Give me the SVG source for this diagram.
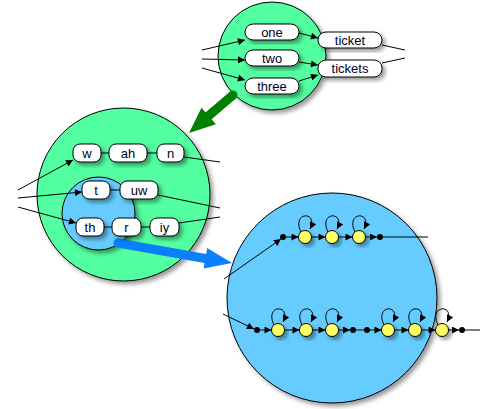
<svg xmlns="http://www.w3.org/2000/svg" width="488" height="409" viewBox="0 0 488 409">
  <defs>
    <filter id="shadow" x="-20%" y="-20%" width="150%" height="150%">
      <feDropShadow dx="3" dy="3" stdDeviation="2" flood-color="#000" flood-opacity="0.4"/>
    </filter>
    <marker id="arrow" viewBox="0 0 10 10" refX="10" refY="5" markerWidth="8" markerHeight="7" markerUnits="userSpaceOnUse" orient="auto">
      <path d="M0,0 L10,5 L0,10 z" fill="#000"/>
    </marker>
    <style>
      .green { fill: #52ffa0; stroke: #000; stroke-width: 1; filter: url(#shadow); }
      .blue { fill: #66ccff; stroke: #000; stroke-width: 1; filter: url(#shadow); }
      .box rect { fill: #fff; stroke: #000; stroke-width: 1; filter: url(#shadow); }
      .box text { font-family: "Liberation Sans", Arial, sans-serif; font-size: 13px; fill: #000022; text-anchor: middle; dominant-baseline: central; }
      .state { fill: #ffff66; stroke: #000; stroke-width: 1; filter: url(#shadow); }
      .dot { fill: #000; }
      .edge { fill: none; stroke: #000; stroke-width: 1; }
      .arr { marker-end: url(#arrow); }
      .link { stroke: #2a6a8a; stroke-width: 2; }
    </style>
  </defs>

  <rect width="488" height="409" fill="#fff"/>

  <!-- word-level network -->
  <g id="word-net"><circle class="green" cx="272" cy="56" r="54"/></g>
  <!-- phone-level network -->
  <g id="phone-net"><circle class="green" cx="123.5" cy="194.5" r="86.5"/></g>
  <g id="phone-subnet"><circle class="blue" cx="98.5" cy="213.5" r="36.5"/></g>
  <!-- state-level network -->
  <g id="state-net"><circle class="blue" cx="332" cy="298" r="105"/></g>

  <g id="connectors">
    <!-- word network edges -->
    <line class="edge arr" x1="202" y1="50" x2="245" y2="40"/>
    <line class="edge arr" x1="202" y1="59" x2="245" y2="60"/>
    <line class="edge arr" x1="202" y1="68" x2="245" y2="80"/>
    <line class="edge arr" x1="299" y1="33" x2="318" y2="38"/>
    <line class="edge arr" x1="299" y1="62" x2="318" y2="65"/>
    <line class="edge arr" x1="299" y1="81" x2="318" y2="75"/>
    <line class="edge" x1="382" y1="45" x2="405" y2="50"/>
    <line class="edge" x1="382" y1="63" x2="405" y2="58"/>

    <!-- phone network edges -->
    <line class="edge arr" x1="18" y1="190" x2="73" y2="160"/>
    <line class="edge arr" x1="18" y1="198" x2="82" y2="192"/>
    <line class="edge arr" x1="18" y1="207" x2="76" y2="223"/>
    <line class="edge" x1="101" y1="153" x2="109" y2="153"/>
    <line class="edge" x1="147" y1="153" x2="157" y2="153"/>
    <line class="edge link" x1="110" y1="190" x2="120" y2="190"/>
    <line class="edge" x1="104" y1="227" x2="112" y2="227"/>
    <line class="edge" x1="141" y1="227" x2="150" y2="227"/>
    <line class="edge" x1="184" y1="157" x2="220" y2="162"/>
    <line class="edge" x1="158" y1="195" x2="220" y2="208"/>
    <line class="edge" x1="179" y1="223" x2="220" y2="217"/>

    <!-- expansion arrows -->
    <line x1="233" y1="95" x2="206" y2="118" stroke="#008000" stroke-width="9" stroke-linecap="round"/>
    <polygon points="189,133 201.5,107.7 215.9,124.3" fill="#008000"/>
    <line x1="118" y1="243" x2="208" y2="259" stroke="#0a80ff" stroke-width="9" stroke-linecap="round"/>
    <polygon points="232,263 207.2,248 203.6,268.6" fill="#0a80ff"/>

    <!-- state chain: upper -->
    <line class="edge arr" x1="224" y1="279" x2="281" y2="239"/>
    <line class="edge arr" x1="286" y1="237" x2="298.5" y2="237"/>
    <line class="edge arr" x1="311.5" y1="237" x2="325.5" y2="237"/>
    <line class="edge arr" x1="338.5" y1="237" x2="352.5" y2="237"/>
    <line class="edge arr" x1="365.5" y1="237" x2="377" y2="237"/>
    <line class="edge" x1="383" y1="237" x2="428" y2="237"/>
    <path class="edge arr" d="M301,232 C291,211 319,211 310,229"/>
    <path class="edge arr" d="M328,232 C318,211 346,211 337,229"/>
    <path class="edge arr" d="M355,232 C345,211 373,211 364,229"/>

    <!-- state chain: lower -->
    <line class="edge arr" x1="223" y1="314" x2="254" y2="329"/>
    <line class="edge arr" x1="260" y1="330" x2="271.5" y2="330"/>
    <line class="edge arr" x1="284.5" y1="330" x2="299.5" y2="330"/>
    <line class="edge arr" x1="312.5" y1="330" x2="325.5" y2="330"/>
    <line class="edge arr" x1="338.5" y1="330" x2="350" y2="330"/>
    <line class="edge" x1="356" y1="330" x2="364" y2="330"/>
    <line class="edge arr" x1="370" y1="330" x2="381.5" y2="330"/>
    <line class="edge arr" x1="394.5" y1="330" x2="408.5" y2="330"/>
    <line class="edge arr" x1="421.5" y1="330" x2="435.5" y2="330"/>
    <line class="edge arr" x1="448.5" y1="330" x2="459" y2="330"/>
    <line class="edge" x1="465" y1="330" x2="480" y2="330"/>
    <path class="edge arr" d="M274,325 C264,304 292,304 283,322"/>
    <path class="edge arr" d="M302,325 C292,304 320,304 311,322"/>
    <path class="edge arr" d="M328,325 C318,304 346,304 337,322"/>
    <path class="edge arr" d="M384,325 C374,304 402,304 393,322"/>
    <path class="edge arr" d="M411,325 C401,304 429,304 420,322"/>
    <path class="edge arr" d="M438,325 C428,304 456,304 447,322"/>
  </g>

  <!-- word nodes -->
  <g id="w-one" class="box"><rect x="245" y="24" width="54" height="16" rx="8"/><text x="272" y="32">one</text></g>
  <g id="w-two" class="box"><rect x="245" y="50" width="54" height="16" rx="8"/><text x="272" y="58">two</text></g>
  <g id="w-three" class="box"><rect x="245" y="78" width="54" height="16" rx="8"/><text x="272" y="86">three</text></g>
  <g id="w-ticket" class="box"><rect x="318" y="32" width="64" height="16" rx="8"/><text x="350" y="40">ticket</text></g>
  <g id="w-tickets" class="box"><rect x="318" y="60" width="64" height="17" rx="8"/><text x="350" y="68.5">tickets</text></g>

  <!-- phone nodes -->
  <g id="p-w" class="box"><rect x="73" y="144" width="28" height="18" rx="7"/><text x="87" y="153">w</text></g>
  <g id="p-ah" class="box"><rect x="109" y="144" width="38" height="18" rx="7"/><text x="128" y="153">ah</text></g>
  <g id="p-n" class="box"><rect x="157" y="144" width="27" height="18" rx="7"/><text x="170.5" y="153">n</text></g>
  <g id="p-t" class="box"><rect x="82" y="181" width="28" height="18" rx="7"/><text x="96" y="190">t</text></g>
  <g id="p-uw" class="box"><rect x="120" y="181" width="38" height="18" rx="7"/><text x="139" y="190">uw</text></g>
  <g id="p-th" class="box"><rect x="76" y="218" width="28" height="18" rx="7"/><text x="90" y="227">th</text></g>
  <g id="p-r" class="box"><rect x="112" y="218" width="29" height="18" rx="7"/><text x="126.5" y="227">r</text></g>
  <g id="p-iy" class="box"><rect x="150" y="218" width="29" height="18" rx="7"/><text x="164.5" y="227">iy</text></g>

  <!-- HMM states: upper chain -->
  <g id="s-a0"><circle class="dot" cx="283" cy="237" r="3"/></g>
  <g id="s-a1"><circle class="state" cx="305" cy="237" r="6.5"/></g>
  <g id="s-a2"><circle class="state" cx="332" cy="237" r="6.5"/></g>
  <g id="s-a3"><circle class="state" cx="359" cy="237" r="6.5"/></g>
  <g id="s-a4"><circle class="dot" cx="380" cy="237" r="3"/></g>

  <!-- HMM states: lower chain -->
  <g id="s-b0"><circle class="dot" cx="257" cy="330" r="3"/></g>
  <g id="s-b1"><circle class="state" cx="278" cy="330" r="6.5"/></g>
  <g id="s-b2"><circle class="state" cx="306" cy="330" r="6.5"/></g>
  <g id="s-b3"><circle class="state" cx="332" cy="330" r="6.5"/></g>
  <g id="s-b4"><circle class="dot" cx="353" cy="330" r="3"/></g>
  <g id="s-b5"><circle class="dot" cx="367" cy="330" r="3"/></g>
  <g id="s-b6"><circle class="state" cx="388" cy="330" r="6.5"/></g>
  <g id="s-b7"><circle class="state" cx="415" cy="330" r="6.5"/></g>
  <g id="s-b8"><circle class="state" cx="442" cy="330" r="6.5"/></g>
  <g id="s-b9"><circle class="dot" cx="462" cy="330" r="3"/></g>
</svg>
